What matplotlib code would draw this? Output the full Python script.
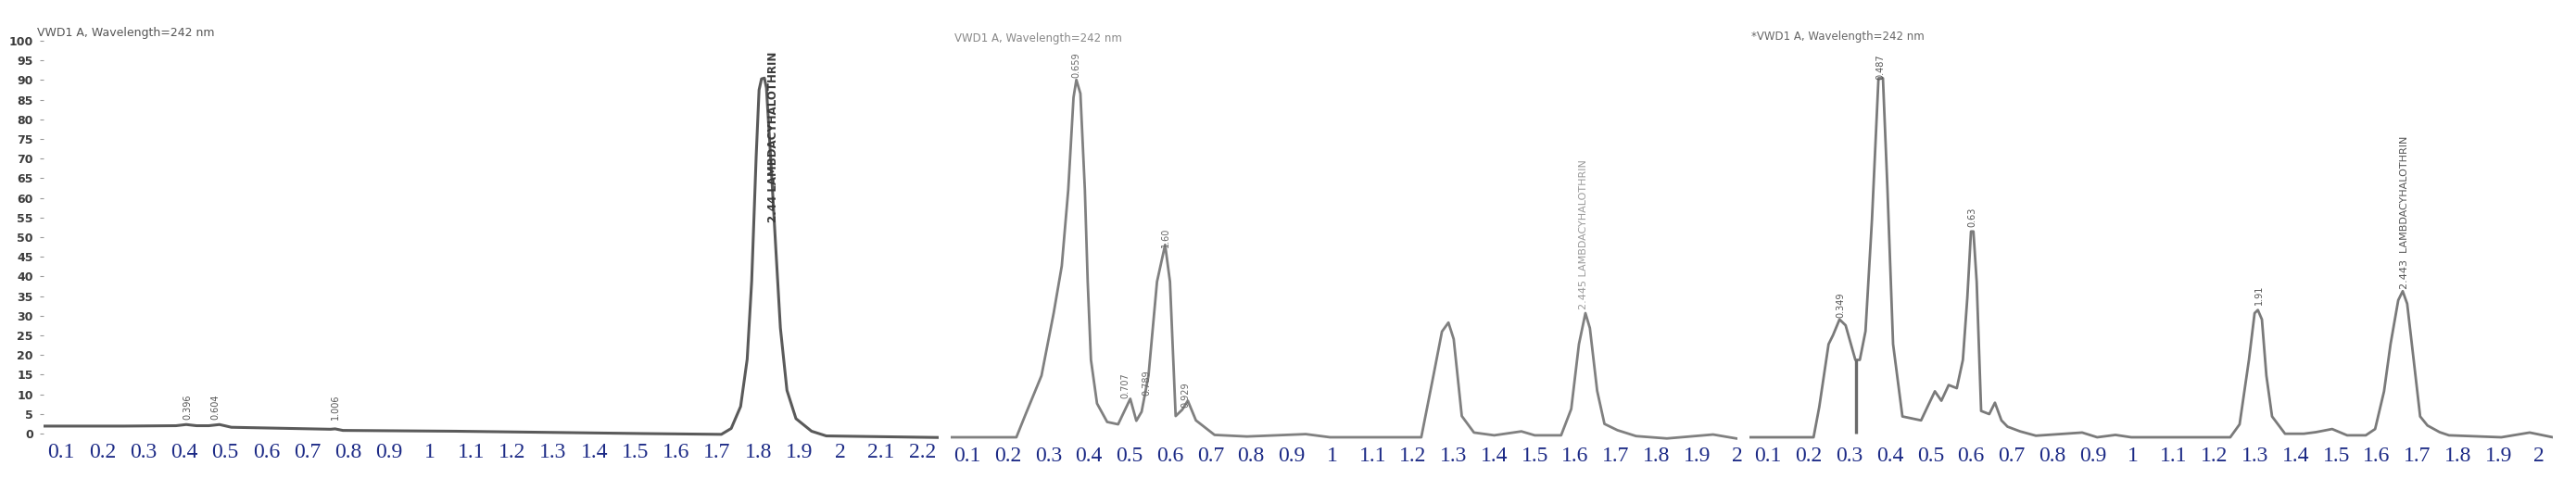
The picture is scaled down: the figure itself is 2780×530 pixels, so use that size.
import numpy as np
import matplotlib
matplotlib.use("Agg")
import matplotlib.pyplot as plt

# ---------------- data ----------------
title_text = "VWD1 A, Wavelength=242 nm"
title_text3 = "*VWD1 A, Wavelength=242 nm"

# Panel 1 (standard)
p1_t = [0.057, 0.253, 0.38, 0.405, 0.43, 0.46, 0.486, 0.515, 0.757, 0.768, 0.787, 1.06, 1.52,
        1.71, 1.734, 1.757, 1.773, 1.784, 1.795, 1.802, 1.808, 1.815, 1.82, 1.83, 1.843, 1.854,
        1.87, 1.892, 1.93, 1.966, 2.24]
p1_v = [1.9, 1.9, 2.0, 2.3, 2.0, 2.0, 2.3, 1.6, 1.1, 1.2, 0.8, 0.6, 0.0,
        -0.2, 1.3, 6.9, 18.9, 38.8, 70.7, 87.5, 90.3, 90.5, 88.0, 70.7, 46.8, 26.9,
        11.0, 3.8, 0.6, -0.6, -1.0]

# Panel 2 (sample A)
p2_t = [0.059, 0.221, 0.242, 0.283, 0.313, 0.333, 0.349, 0.362, 0.369, 0.379, 0.39, 0.397,
        0.405, 0.42, 0.445, 0.472, 0.502, 0.517, 0.53, 0.547, 0.568, 0.588, 0.6, 0.614,
        0.63, 0.644, 0.664, 0.71, 0.79, 0.935, 0.995, 1.22, 1.25, 1.271, 1.287, 1.3, 1.32,
        1.35, 1.40, 1.467, 1.5, 1.565, 1.59, 1.609, 1.625, 1.636, 1.654, 1.672, 1.704,
        1.75, 1.826, 1.94, 1.997]
p2_v = [0.0, 0.0, 5.4, 15.7, 31.6, 43.6, 63.0, 86.5, 91.0, 87.5, 63.0, 39.6,
        19.7, 8.6, 3.9, 3.3, 9.8, 4.2, 6.5, 15.7, 39.6, 49.0, 39.6, 5.4,
        7.0, 9.3, 4.3, 0.6, 0.2, 0.8, 0.0, 0.0, 15.7, 26.9, 29.2, 25.0, 5.4,
        1.2, 0.5, 1.5, 0.5, 0.5, 7.2, 23.7, 31.6, 27.8, 11.8, 3.4, 1.8,
        0.3, -0.3, 0.7, -0.3]

# Panel 3 (sample B)
p3_t = [0.054, 0.212, 0.226, 0.249, 0.26, 0.276, 0.291, 0.315, 0.326, 0.34, 0.356, 0.372,
        0.383, 0.394, 0.408, 0.431, 0.477, 0.493, 0.511, 0.527, 0.545, 0.565, 0.58, 0.591,
        0.6, 0.606, 0.614, 0.625, 0.645, 0.659, 0.675, 0.69, 0.721, 0.76, 0.874, 0.911,
        0.956, 0.995, 1.239, 1.262, 1.285, 1.299, 1.307, 1.317, 1.328, 1.342, 1.374,
        1.42, 1.45, 1.49, 1.527, 1.573, 1.596, 1.618, 1.634, 1.653, 1.664, 1.675, 1.691,
        1.707, 1.725, 1.755, 1.778, 1.907, 1.977, 2.034]
p3_v = [0.0, 0.0, 7.7, 23.7, 26.0, 30.0, 28.5, 19.7, 19.7, 27.0, 55.5, 91.4,
        91.4, 63.5, 23.7, 5.3, 4.3, 7.8, 11.7, 9.3, 13.3, 12.5, 19.7, 35.6,
        52.4, 52.4, 39.6, 6.7, 5.9, 8.8, 4.3, 2.7, 1.5, 0.4, 1.2, 0.0,
        0.6, 0.0, 0.0, 3.3, 19.7, 31.6, 32.4, 30.0, 15.7, 5.3, 0.9,
        0.9, 1.3, 2.1, 0.5, 0.5, 2.1, 11.7, 23.7, 34.9, 37.2, 34.0, 19.7,
        5.3, 3.0, 1.3, 0.5, 0.0, 1.2, 0.0]
p3_drop_t = [0.317]
p3_drop_v = [19.7]

# Peak labels: (text, x, bottom value)
p1_lbl_txt = ["0.396", "0.604", "1.006"]
p1_lbl_x = [0.409, 0.477, 0.768]
p1_lbl_y = [3.5, 3.5, 3.5]
p1_main_txt = "2.44 LAMBDACYHALOTHRIN"
p1_main_x, p1_main_y = 1.836, 53.8

p2_lbl_txt = ["0.659", "0.707", "0.789", "1.60", "0.929"]
p2_lbl_x = [0.369, 0.49, 0.543, 0.589, 0.639]
p2_lbl_y = [91.5, 9.9, 10.6, 48.3, 7.5]
p2_main_txt = "2.445 LAMBDACYHALOTHRIN"
p2_main_x, p2_main_y = 1.62, 32.5

p3_lbl_txt = ["0.349", "0.487", "0.63", "1.91"]
p3_lbl_x = [0.278, 0.376, 0.602, 1.31]
p3_lbl_y = [30.4, 91.0, 53.5, 33.7]
p3_main_txt = "2.443  LAMBDACYHALOTHRIN"
p3_main_x, p3_main_y = 1.668, 37.7

x_ticks_1 = [round(0.1 * i, 1) for i in range(1, 23)]
x_ticks_23 = [round(0.1 * i, 1) for i in range(1, 21)]
y_ticks_1 = list(range(0, 101, 5))

# ---------------- layout ----------------
W, H = 2780, 530
fig = plt.figure(figsize=(W / 100, H / 100), dpi=100)
PX_PER_UNIT = 4.24
YLIM = (-2, 104)


def rect(left, right, base):
    bottom_px = base - YLIM[0] * PX_PER_UNIT
    top_px = base - YLIM[1] * PX_PER_UNIT
    return [left / W, (H - bottom_px) / H, (right - left) / W, (bottom_px - top_px) / H]


tick_color = "#1c2a86"


def style(ax, xlim, xticks):
    ax.set_xlim(*xlim)
    ax.set_ylim(*YLIM)
    for s in ax.spines.values():
        s.set_visible(False)
    ax.set_xticks(xticks)
    ax.set_xticklabels(["%g" % t for t in xticks], family="Liberation Serif",
                       fontsize=17, color=tick_color)
    ax.tick_params(axis="x", length=0, pad=1)
    ax.set_yticks([])
    ax.patch.set_alpha(0)


ax1 = fig.add_axes(rect(47, 1013, 468))
ax2 = fig.add_axes(rect(1026, 1875, 472))
ax3 = fig.add_axes(rect(1888, 2755, 472))

style(ax1, (0.057, 2.24), x_ticks_1)
style(ax2, (0.059, 1.998), x_ticks_23)
style(ax3, (0.054, 2.034), x_ticks_23)

ax1.set_yticks(y_ticks_1)
ax1.set_yticklabels([str(v) for v in y_ticks_1], fontsize=9, fontweight="bold", color="#3a3a3a")
ax1.tick_params(axis="y", length=3, pad=5, color="#999")

ax1.plot(p1_t, p1_v, color="#5a5a5a", lw=2.2, solid_joinstyle="round")
ax2.plot(p2_t, p2_v, color="#808080", lw=2.0, solid_joinstyle="round")
ax3.plot(p3_t, p3_v, color="#7a7a7a", lw=2.0, solid_joinstyle="round")
ax3.vlines(p3_drop_t, 1.0, p3_drop_v, color="#6a6a6a", lw=2.4)

for t, x, y in zip(p1_lbl_txt, p1_lbl_x, p1_lbl_y):
    ax1.text(x, y, t, rotation=90, ha="center", va="bottom", fontsize=7, color="#555")
ax1.text(p1_main_x, p1_main_y, p1_main_txt, rotation=90, ha="center", va="bottom",
         fontsize=8.5, fontweight="bold", color="#3a3a3a")

for t, x, y in zip(p2_lbl_txt, p2_lbl_x, p2_lbl_y):
    ax2.text(x, y, t, rotation=90, ha="center", va="bottom", fontsize=7, color="#666")
ax2.text(p2_main_x, p2_main_y, p2_main_txt, rotation=90, ha="center", va="bottom",
         fontsize=8, color="#9a9a9a")

for t, x, y in zip(p3_lbl_txt, p3_lbl_x, p3_lbl_y):
    ax3.text(x, y, t, rotation=90, ha="center", va="bottom", fontsize=7, color="#555")
ax3.text(p3_main_x, p3_main_y, p3_main_txt, rotation=90, ha="center", va="bottom",
         fontsize=8, color="#555")

fig.text(40 / W, 1 - 36 / H, title_text, fontsize=9, color="#555", va="center", ha="left")
fig.text(1030 / W, 1 - 42 / H, title_text, fontsize=8.5, color="#888", va="center", ha="left")
fig.text(1890 / W, 1 - 39 / H, title_text3, fontsize=8.5, color="#666", va="center", ha="left")

fig.savefig("out.png", dpi=100, facecolor="white")
